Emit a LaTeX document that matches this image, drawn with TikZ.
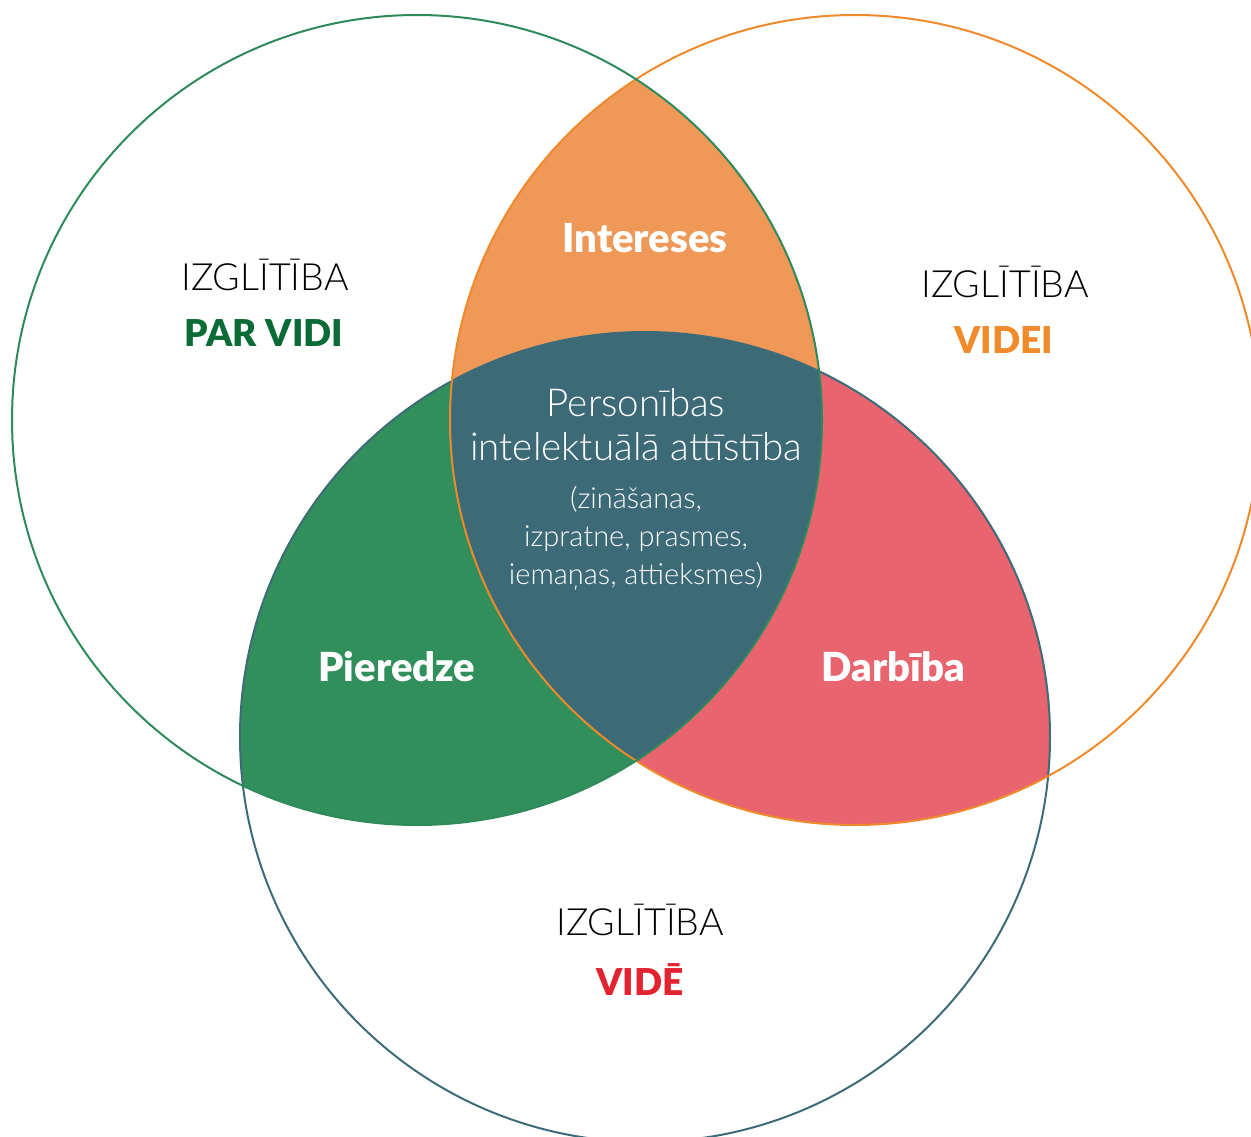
\documentclass[tikz,border=0pt]{standalone}
\usepackage{fontspec}
\setmainfont{Lato}[UprightFont=* Light, BoldFont=* Black]
\definecolor{cgreenline}{HTML}{2E8A5A}
\definecolor{corangeline}{HTML}{EF8A2C}
\definecolor{ctealline}{HTML}{3D6B78}
\definecolor{cgreenfill}{HTML}{318F5C}
\definecolor{corangefill}{HTML}{EF9857}
\definecolor{credfill}{HTML}{E8646E}
\definecolor{ctealfill}{HTML}{3C6A77}
\definecolor{cpar}{HTML}{0B6B37}
\definecolor{cvidei}{HTML}{F08A2A}
\definecolor{cvide}{HTML}{E3232F}
\tikzset{
  big/.style={font=\fontsize{37.5}{44}\selectfont, inner sep=0pt},
  bigbold/.style={font=\fontsize{37}{44}\selectfont\bfseries, inner sep=0pt},
  small/.style={font=\fontsize{29}{38}\selectfont, align=center, inner sep=0pt, text=white},
  region/.style={font=\fontsize{40}{44}\selectfont\bfseries, text=white, inner sep=0pt},
}
\begin{document}
\begin{tikzpicture}[x=1pt,y=-1pt]
\useasboundingbox (0,0) rectangle (1251,1137);
\coordinate (L) at (417,420);
\coordinate (R) at (855,420);
\coordinate (B) at (645,737);
\begin{scope}
  \clip (0,0) rectangle (1251,1137);
  \begin{scope}
    \clip (L) circle (405);
    \fill[corangefill] (R) circle (405);
    \fill[cgreenfill] (B) circle (405);
  \end{scope}
  \begin{scope}
    \clip (R) circle (405);
    \fill[credfill] (B) circle (405);
  \end{scope}
  \begin{scope}
    \clip (L) circle (405);
    \clip (R) circle (405);
    \fill[ctealfill] (B) circle (405);
  \end{scope}
  \draw[ctealline, line width=2] (B) circle (405);
  \draw[corangeline, line width=2] (R) circle (405);
  \draw[cgreenline, line width=2] (L) circle (405);
\end{scope}
% labels
\node[big] (l1) at (265,275) {IZGLĪTĪBA};
\node[bigbold, text=cpar] (l2) at (264,333) {PAR VIDI};
\node[big] (r1) at (1005,282) {IZGLĪTĪBA};
\node[bigbold, text=cvidei] (r2) at (1004,340) {VIDEI};
\node[big] (b1) at (640,920) {IZGLĪTĪBA};
\node[bigbold, text=cvide] (b2) at (640,980) {VIDĒ};
\node[region] (int) at (645,238) {Intereses};
\node[region] (pie) at (397,667) {Pieredze};
\node[region] (dar) at (893,667) {Darbība};
\node[big, text=white, font=\fontsize{38.5}{44}\selectfont] (p1) at (636,403) {Personības};
\node[big, text=white, font=\fontsize{38.5}{44}\selectfont] (p2) at (636,447) {intelektuālā attīstība};
\node[small] (p3) at (636,538) {(zināšanas,\\izpratne, prasmes,\\iemaņas, attieksmes)};
\end{tikzpicture}
\end{document}
